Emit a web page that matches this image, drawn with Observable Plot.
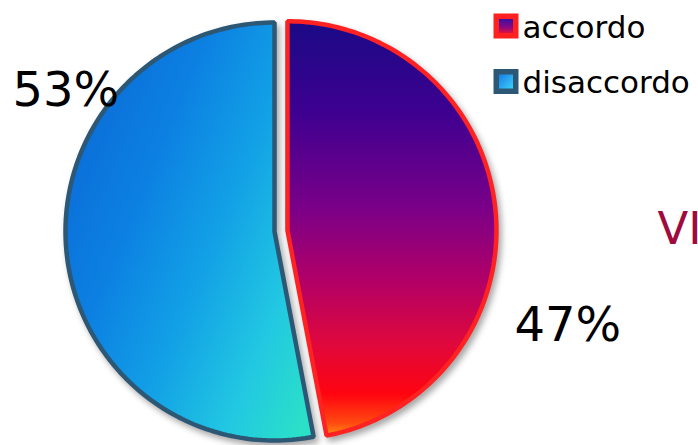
<!DOCTYPE html>
<html>
<head>
<meta charset="utf-8">
<script src="https://cdn.jsdelivr.net/npm/d3@7"></script>
<script src="https://cdn.jsdelivr.net/npm/@observablehq/plot@0.6"></script>
<style>
  html, body { margin: 0; padding: 0; background: #fff; }
  #chart svg { display: block; font-family: "DejaVu Sans", Verdana, sans-serif; }
  #chart g[aria-label="line"] path { filter: drop-shadow(3px 4px 3px rgba(0,0,0,0.35)); }
</style>
</head>
<body>
<div id="chart"></div>
<script>
// ---- data ----
const categories = ["accordo", "disaccordo"];
const values = [47, 53];
const labels = ["47%", "53%"];
const sideTitle = ["VI"];

// ---- layout constants ----
const W = 698, H = 445;
const R = 209;            // pie radius in px
const CX = 274, CY = 231; // pie center in px
const explode = [13 / R, 0];

const pie = d3.pie().sort(null).value(d => d.value).startAngle(0)(
  categories.map((c, i) => ({ category: c, value: values[i] }))
);

function slicePoints(arc, i) {
  const mid = (arc.startAngle + arc.endAngle) / 2;
  const ox = explode[i] * Math.sin(mid), oy = explode[i] * Math.cos(mid);
  const pts = [{ x: ox, y: oy }];
  const n = 160;
  for (let k = 0; k <= n; k++) {
    const a = arc.startAngle + (arc.endAngle - arc.startAngle) * k / n;
    pts.push({ x: ox + Math.sin(a), y: oy + Math.cos(a) });
  }
  return pts;
}

const fills = ["url(#gradAccordo)", "url(#gradDisaccordo)"];
const strokes = ["#ff2222", "#2c5876"];

const sliceMarks = pie.map((arc, i) =>
  Plot.line(slicePoints(arc, i), {
    x: "x", y: "y", curve: "linear-closed",
    fill: fills[i], stroke: strokes[i], strokeWidth: 4.5, strokeLinejoin: "miter"
  })
);

const plot = Plot.plot({
  width: W, height: H,
  margin: 0,
  x: { domain: [-CX / R, (W - CX) / R], axis: null },
  y: { domain: [(CY - H) / R, CY / R], axis: null },
  marks: [
    ...sliceMarks,
    // percentage labels
    Plot.text([labels[1]], { text: d => d, frameAnchor: "top-left", dx: 12, dy: 105, textAnchor: "start", lineAnchor: "bottom", fontSize: 48, fill: "#000" }),
    Plot.text([labels[0]], { text: d => d, frameAnchor: "top-left", dx: 514, dy: 340, textAnchor: "start", lineAnchor: "bottom", fontSize: 48, fill: "#000" }),
    // side title (cut off at the right edge, as in the reference)
    Plot.text(sideTitle, { text: d => d, frameAnchor: "top-left", dx: 657, dy: 243, textAnchor: "start", lineAnchor: "bottom", fontSize: 45, letterSpacing: 3, fill: "#9e0b3c" }),
    // legend swatches
    Plot.dot([categories[0]], { frameAnchor: "top-left", dx: 505.5, dy: 25.5, symbol: "square", r: 25 / Math.sqrt(Math.PI), fill: "#ff2020" }),
    Plot.dot([categories[0]], { frameAnchor: "top-left", dx: 505.5, dy: 25.5, symbol: "square", r: 14 / Math.sqrt(Math.PI), fill: "url(#legAccordo)" }),
    Plot.dot([categories[1]], { frameAnchor: "top-left", dx: 505.5, dy: 81, symbol: "square", r: 25 / Math.sqrt(Math.PI), fill: "#2c5876" }),
    Plot.dot([categories[1]], { frameAnchor: "top-left", dx: 505.5, dy: 81, symbol: "square", r: 14 / Math.sqrt(Math.PI), fill: "url(#legDisaccordo)" }),
    // legend text
    Plot.text([categories[0]], { text: d => d, frameAnchor: "top-left", dx: 522, dy: 37, textAnchor: "start", lineAnchor: "bottom", fontSize: 31, fill: "#000" }),
    Plot.text([categories[1]], { text: d => d, frameAnchor: "top-left", dx: 522, dy: 92, textAnchor: "start", lineAnchor: "bottom", fontSize: 31, fill: "#000" })
  ]
});

// gradients
const defs = d3.select(plot).insert("defs", ":first-child");
function lin(id, x1, y1, x2, y2, stops) {
  const g = defs.append("linearGradient").attr("id", id)
    .attr("x1", x1).attr("y1", y1).attr("x2", x2).attr("y2", y2);
  stops.forEach(([o, c]) => g.append("stop").attr("offset", o).attr("stop-color", c));
}
lin("gradAccordo", 0, 0, 0, 1, [
  [0, "#1a0a86"], [0.22, "#3e0090"], [0.45, "#7a0088"], [0.62, "#b00068"],
  [0.78, "#e0083c"], [0.9, "#ff0410"], [0.97, "#ff4a10"], [1, "#ff9010"]
]);
lin("gradDisaccordo", 0, 0.2, 1, 0.9, [
  [0, "#0a6ad6"], [0.3, "#0c80e2"], [0.55, "#12a0e6"], [0.8, "#22c8e2"], [1, "#2ae0c8"]
]);
lin("legAccordo", 0, 0, 0, 1, [[0, "#3a10a0"], [0.6, "#8a0880"], [1, "#e01040"]]);
lin("legDisaccordo", 0, 0, 1, 1, [[0, "#1a7ce8"], [1, "#3ad0f8"]]);

document.getElementById("chart").appendChild(plot);
</script>
</body>
</html>
